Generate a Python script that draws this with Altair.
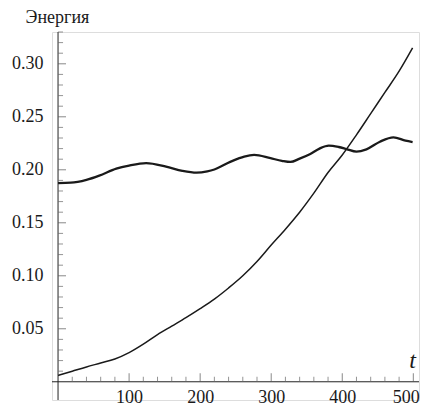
import altair as alt
import pandas as pd

# Rising curve
t_rise = [0, 20, 40, 60, 80, 100, 120, 140, 160, 180, 200, 220, 240, 260, 280,
          300, 320, 340, 360, 380, 400, 420, 440, 460, 480, 499]
e_rise = [0.0060, 0.0100, 0.0140, 0.0177, 0.0215, 0.0275, 0.0355, 0.0445, 0.0525,
          0.0605, 0.0690, 0.0780, 0.0885, 0.1000, 0.1135, 0.1290, 0.1440, 0.1600,
          0.1780, 0.1975, 0.2140, 0.2330, 0.2530, 0.2730, 0.2930, 0.3150]

# Wavy curve
t_wave = [0, 18, 40, 58, 82, 100, 124, 152, 175, 195, 210, 220, 243, 262, 276,
          299, 315, 327, 340, 355, 368, 381, 395, 406, 420, 434, 453, 472, 489, 499]
e_wave = [0.1875, 0.1878, 0.1905, 0.1945, 0.2011, 0.2040, 0.2063, 0.2030, 0.1990,
          0.1973, 0.1985, 0.2003, 0.2077, 0.2125, 0.2140, 0.2109, 0.2085, 0.2074,
          0.2105, 0.2149, 0.2200, 0.2228, 0.2215, 0.2196, 0.2171, 0.2193, 0.2265,
          0.2306, 0.2275, 0.2262]

x_major = [100, 200, 300, 400, 500]
x_minor = [20, 40, 60, 80, 120, 140, 160, 180, 220, 240, 260, 280,
           320, 340, 360, 380, 420, 440, 460, 480]
y_major = [0.05, 0.10, 0.15, 0.20, 0.25, 0.30]
y_minor = [0.01, 0.02, 0.03, 0.04, 0.06, 0.07, 0.08, 0.09, 0.11, 0.12, 0.13, 0.14,
           0.16, 0.17, 0.18, 0.19, 0.21, 0.22, 0.23, 0.24, 0.26, 0.27, 0.28, 0.29,
           0.31, 0.32, 0.33]

X_DOMAIN = [-8.5, 508]
Y_DOMAIN = [-0.0172, 0.33]
FONT = "Liberation Serif, Times New Roman, DejaVu Serif, serif"

xs = alt.Scale(domain=X_DOMAIN, nice=False, zero=False)
ys = alt.Scale(domain=Y_DOMAIN, nice=False, zero=False)

rise_df = pd.DataFrame({"t": t_rise, "e": e_rise})
wave_df = pd.DataFrame({"t": t_wave, "e": e_wave})

x_axis = alt.Axis(values=x_major, format="d", domain=False, ticks=False, tickSize=0,
                  grid=False, labelFont=FONT, labelFontSize=18, labelColor="#1a1a1a",
                  labelBaseline="middle", labelPadding=0, labelFlush=False, offset=-3,
                  labelAlign=alt.ExprRef("datum.value == 500 ? 'right' : 'center'"),
                  labelOffset=alt.ExprRef("datum.value == 500 ? 6 : 0"),
                  title="t", titleFont=FONT, titleFontSize=24, titleFontStyle="italic",
                  titleFontWeight="normal", titleColor="#1a1a1a", titleAlign="center",
                  titleBaseline="alphabetic", titleX=360, titleY=-30)
y_axis = alt.Axis(values=y_major, format=".2f", domain=False, ticks=False, tickSize=0,
                  grid=False, labelFont=FONT, labelFontSize=18, labelColor="#1a1a1a",
                  labelPadding=9, labelFlush=False,
                  title="Энергия", titleFont=FONT, titleFontSize=18,
                  titleFontWeight="normal", titleColor="#1a1a1a", titleAngle=0,
                  titleAlign="left", titleBaseline="top", titleX=-27, titleY=-24)

rise = alt.Chart(rise_df).mark_line(color="#1a1a1a", strokeWidth=1.5, interpolate="monotone").encode(
    x=alt.X("t:Q", scale=xs, axis=x_axis),
    y=alt.Y("e:Q", scale=ys, axis=y_axis),
)
wave = alt.Chart(wave_df).mark_line(color="#1a1a1a", strokeWidth=2.3, interpolate="monotone").encode(
    x=alt.X("t:Q", scale=xs, axis=None),
    y=alt.Y("e:Q", scale=ys, axis=None),
)

base = alt.Chart(pd.DataFrame({"a": [0]}))
x_line = base.mark_rule(color="#222", strokeWidth=1).encode(
    x=alt.X(datum=X_DOMAIN[0], scale=xs, axis=None),
    x2=alt.X2(datum=X_DOMAIN[1]),
    y=alt.Y(datum=0, scale=ys, axis=None),
)
y_line = base.mark_rule(color="#222", strokeWidth=1).encode(
    x=alt.X(datum=0, scale=xs, axis=None),
    y=alt.Y(datum=Y_DOMAIN[0], scale=ys, axis=None),
    y2=alt.Y2(datum=Y_DOMAIN[1]),
)

xmaj = alt.Chart(pd.DataFrame({"v": x_major})).mark_tick(
    orient="vertical", size=8.5, thickness=1, yOffset=-4.25, color="#555").encode(
    x=alt.X("v:Q", scale=xs, axis=None),
    y=alt.Y(datum=0, scale=ys, axis=None),
)
xmin = alt.Chart(pd.DataFrame({"v": x_minor})).mark_tick(
    orient="vertical", size=5, thickness=1, yOffset=-2.5, color="#666").encode(
    x=alt.X("v:Q", scale=xs, axis=None),
    y=alt.Y(datum=0, scale=ys, axis=None),
)
ymaj = alt.Chart(pd.DataFrame({"v": y_major})).mark_tick(
    orient="horizontal", size=8, thickness=1, xOffset=4, color="#555").encode(
    y=alt.Y("v:Q", scale=ys, axis=None),
    x=alt.X(datum=0, scale=xs, axis=None),
)
ymin = alt.Chart(pd.DataFrame({"v": y_minor})).mark_tick(
    orient="horizontal", size=5, thickness=1, xOffset=2.5, color="#666").encode(
    y=alt.Y("v:Q", scale=ys, axis=None),
    x=alt.X(datum=0, scale=xs, axis=None),
)

chart = alt.layer(rise, wave, x_line, y_line, xmaj, xmin, ymaj, ymin).resolve_axis(
    x="independent", y="independent"
).properties(
    width=367, height=368,
    autosize=alt.AutoSizeParams(type="none"),
    padding={"left": 44, "top": 24, "right": 1, "bottom": 6},
).configure_view(strokeWidth=0, stroke="transparent").configure_axis(
    labelFont=FONT, titleFont=FONT
).configure(background="white", font=FONT)

chart.save("out.html", embed_options={"renderer": "svg", "actions": False})
